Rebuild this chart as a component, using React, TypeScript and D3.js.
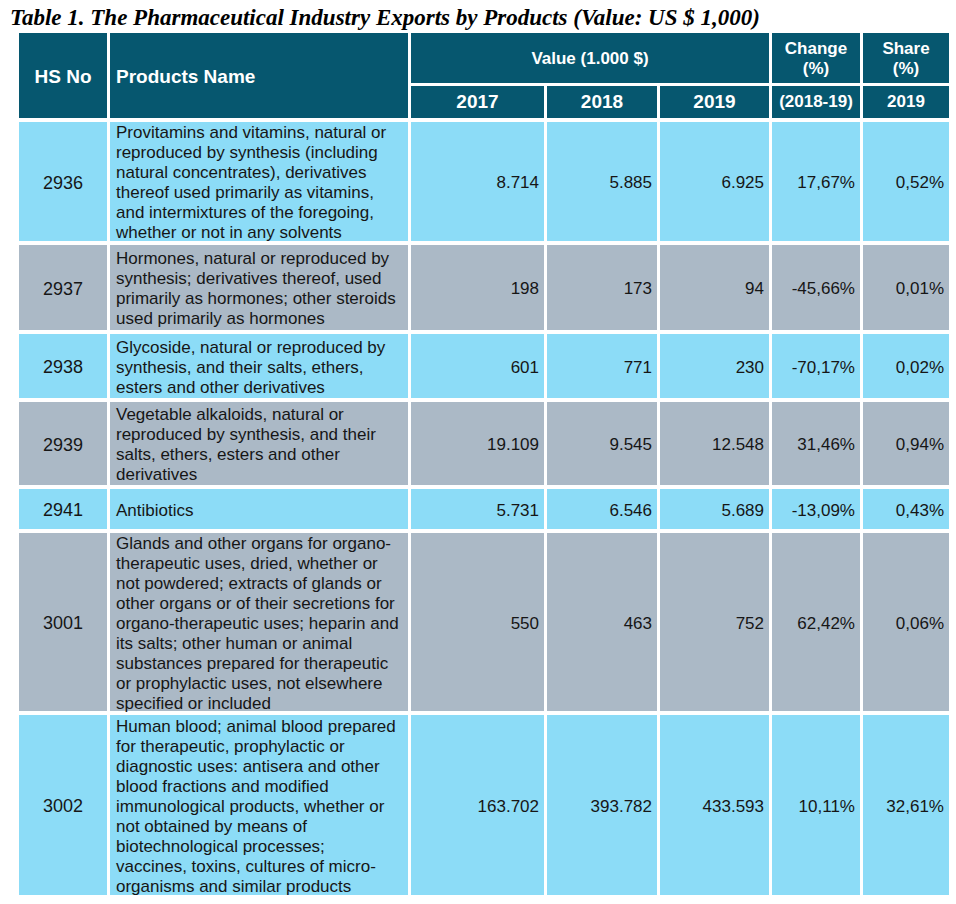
import React from 'react';
import * as d3 from 'd3';

const titleText = 'Table 1. The Pharmaceutical Industry Exports by Products (Value: US $ 1,000)';
const hsCodes = ['2936', '2937', '2938', '2939', '2941', '3001', '3002'];
const productLines: string[][] = [
  ['Provitamins and vitamins, natural or', 'reproduced by synthesis (including', 'natural concentrates), derivatives', 'thereof used primarily as vitamins,', 'and intermixtures of the foregoing,', 'whether or not in any solvents'],
  ['Hormones, natural or reproduced by', 'synthesis; derivatives thereof, used', 'primarily as hormones; other steroids', 'used primarily as hormones'],
  ['Glycoside, natural or reproduced by', 'synthesis, and their salts, ethers,', 'esters and other derivatives'],
  ['Vegetable alkaloids, natural or', 'reproduced by synthesis, and their', 'salts, ethers, esters and other', 'derivatives'],
  ['Antibiotics'],
  ['Glands and other organs for organo-', 'therapeutic uses, dried, whether or', 'not powdered; extracts of glands or', 'other organs or of their secretions for', 'organo-therapeutic uses; heparin and', 'its salts; other human or animal', 'substances prepared for therapeutic', 'or prophylactic uses, not elsewhere', 'specified or included'],
  ['Human blood; animal blood prepared', 'for therapeutic, prophylactic or', 'diagnostic uses: antisera and other', 'blood fractions and modified', 'immunological products, whether or', 'not obtained by means of', 'biotechnological processes;', 'vaccines, toxins, cultures of micro-', 'organisms and similar products'],
];
const values2017 = [8714, 198, 601, 19109, 5731, 550, 163702];
const values2018 = [5885, 173, 771, 9545, 6546, 463, 393782];
const values2019 = [6925, 94, 230, 12548, 5689, 752, 433593];
const changePct = [17.67, -45.66, -70.17, 31.46, -13.09, 62.42, 10.11];
const sharePct = [0.52, 0.01, 0.02, 0.94, 0.43, 0.06, 32.61];
const yearLabels = ['2017', '2018', '2019'];

// layout
const colEdges = [19, 110, 411, 547, 660, 772, 863, 952];
const GAP = 3;
const headTop = 33;
const headMid = 86;
const bodyTop = 122;
const rowHeights = [123, 89, 68, 87, 44, 182, 184];
const LINE = 20;

const HEAD = '#06576f';
const BLUE = '#8cdcf7';
const GRAY = '#abb9c6';
const TXT = '#161616';
const SANS = '"Liberation Sans", Arial, Helvetica, sans-serif';

const loc = d3.formatLocale({ decimal: ',', thousands: '.', grouping: [3], currency: ['', ''], minus: '-' });
const fmtInt = loc.format(',d');
const fmtPct = (v: number) => loc.format(',.2f')(v) + '%';

export default function App() {
  const ys = [bodyTop, ...Array.from(d3.cumsum(rowHeights)).map((c) => bodyTop + c)];
  const x = (i: number) => colEdges[i];
  const w = (i: number, j = i + 1) => colEdges[j] - colEdges[i] - GAP;
  const rowColor = d3.scaleOrdinal<number, string>().domain([0, 1]).range([BLUE, GRAY]);

  const numCols = [
    values2017.map(fmtInt),
    values2018.map(fmtInt),
    values2019.map(fmtInt),
    changePct.map(fmtPct),
    sharePct.map(fmtPct),
  ];

  return (
    <svg width={956} height={904} style={{ position: 'absolute', left: 0, top: 0, background: '#fff' }}>
      <text x={10} y={25} fontFamily='"Liberation Serif", "Times New Roman", serif' fontWeight="bold" fontStyle="italic" fontSize={23} fill="#000">
        {titleText}
      </text>
      {/* header */}
      <g fontFamily={SANS} fontWeight="bold" fill="#fff">
        <rect x={x(0)} y={headTop} width={w(0)} height={bodyTop - headTop - GAP - 1} fill={HEAD} />
        <rect x={x(1)} y={headTop} width={w(1)} height={bodyTop - headTop - GAP - 1} fill={HEAD} />
        <rect x={x(2)} y={headTop} width={w(2, 5)} height={headMid - headTop - GAP} fill={HEAD} />
        <rect x={x(5)} y={headTop} width={w(5)} height={headMid - headTop - GAP} fill={HEAD} />
        <rect x={x(6)} y={headTop} width={w(6)} height={headMid - headTop - GAP} fill={HEAD} />
        {[2, 3, 4, 5, 6].map((c) => (
          <rect key={c} x={x(c)} y={headMid} width={w(c)} height={bodyTop - headMid - GAP - 1} fill={HEAD} />
        ))}
        <text x={x(0) + w(0) / 2} y={76} textAnchor="middle" dominantBaseline="central" fontSize={19}>HS No</text>
        <text x={116} y={76} dominantBaseline="central" fontSize={19}>Products Name</text>
        <text x={x(2) + w(2, 5) / 2} y={58} textAnchor="middle" dominantBaseline="central" fontSize={17}>Value (1.000 $)</text>
        <text x={x(5) + w(5) / 2} y={48} textAnchor="middle" dominantBaseline="central" fontSize={17}>Change</text>
        <text x={x(5) + w(5) / 2} y={68} textAnchor="middle" dominantBaseline="central" fontSize={17}>(%)</text>
        <text x={x(6) + w(6) / 2} y={48} textAnchor="middle" dominantBaseline="central" fontSize={17}>Share</text>
        <text x={x(6) + w(6) / 2} y={68} textAnchor="middle" dominantBaseline="central" fontSize={17}>(%)</text>
        {yearLabels.map((yl, i) => (
          <text key={yl} x={x(2 + i) + w(2 + i) / 2} y={101} textAnchor="middle" dominantBaseline="central" fontSize={19}>{yl}</text>
        ))}
        <text x={x(5) + w(5) / 2} y={101} textAnchor="middle" dominantBaseline="central" fontSize={17}>(2018-19)</text>
        <text x={x(6) + w(6) / 2} y={101} textAnchor="middle" dominantBaseline="central" fontSize={17}>2019</text>
      </g>
      {/* body */}
      <g fontFamily={SANS} fontSize={17} fill={TXT}>
        {hsCodes.map((code, r) => {
          const y0 = ys[r];
          const h = rowHeights[r] - 4;
          const cy = y0 + h / 2 + 1;
          const lines = productLines[r];
          return (
            <g key={code}>
              {d3.range(7).map((c) => (
                <rect key={c} x={x(c)} y={y0} width={w(c)} height={h} fill={rowColor(r % 2)} />
              ))}
              <text x={x(0) + w(0) / 2} y={cy} textAnchor="middle" dominantBaseline="central" fontSize={18}>{code}</text>
              {lines.map((ln, i) => (
                <text key={i} x={116} y={cy + (i - (lines.length - 1) / 2) * LINE} dominantBaseline="central">{ln}</text>
              ))}
              {numCols.map((col, ci) => (
                <text key={ci} x={x(2 + ci) + w(2 + ci) - 5} y={cy} textAnchor="end" dominantBaseline="central">{col[r]}</text>
              ))}
            </g>
          );
        })}
      </g>
    </svg>
  );
}
